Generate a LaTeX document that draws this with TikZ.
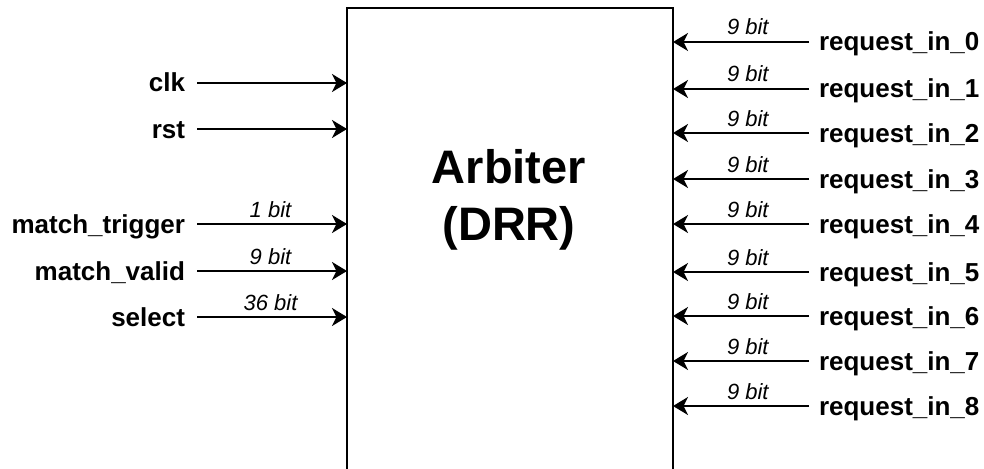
\documentclass[tikz,border=0pt]{standalone}
\usepackage{fontspec}
\setmainfont{Liberation Sans}
\usetikzlibrary{arrows.meta}
\tikzset{
  sig/.style={line width=2.2pt, -{Stealth[length=15pt, width=18pt, inset=4.5pt]}},
  port/.style={inner sep=0pt, outer sep=0pt, text height=18pt, text depth=0pt,
    font=\fontsize{26}{30}\selectfont\bfseries},
  width/.style={anchor=base, yshift=7pt, inner sep=0pt, font=\fontsize{22}{26}\selectfont\itshape},
  block/.style={draw, line width=2pt, outer sep=0pt, inner sep=0pt, minimum width=326pt,
    minimum height=480pt, anchor=north}
}
\begin{document}
\begin{tikzpicture}[x=1pt, y=-1pt]
\useasboundingbox (0,0) rectangle (984,468);

% the arbiter block (its lower edge runs off the page)
\node[block] (arb) at (510,8) {};
\node[font=\fontsize{47}{57}\selectfont\bfseries, align=center, anchor=base] (title) at (509,240)
  {Arbiter\\(DRR)};

% inputs on the left side
\node[port, anchor=east] (clk) at (185,83) {clk};
\node[port, anchor=east] (rst) at (185,129) {rst};
\node[port, anchor=east] (mtrig) at (185,224) {match\_trigger};
\node[port, anchor=east] (mvalid) at (185,271) {match\_valid};
\node[port, anchor=east] (sel) at (185,317) {select};

\draw[sig] ([xshift=12pt]clk.east) -- (arb.west |- clk.east);
\draw[sig] ([xshift=12pt]rst.east) -- (arb.west |- rst.east);
\draw[sig] ([xshift=12pt]mtrig.east) -- node[width, pos=.49] {1 bit} (arb.west |- mtrig.east);
\draw[sig] ([xshift=12pt]mvalid.east) -- node[width, pos=.49] {9 bit} (arb.west |- mvalid.east);
\draw[sig] ([xshift=12pt]sel.east) -- node[width, pos=.49] {36 bit} (arb.west |- sel.east);

% request inputs on the right side
\foreach \i/\y in {0/42, 1/89, 2/133, 3/179, 4/224, 5/272, 6/316, 7/361, 8/406} {
  \node[port, anchor=west] (req\i) at (819,\y) {request\_in\_\i};
  \draw[sig] ([xshift=-10pt]req\i.west) -- node[width, pos=.45] {9 bit} (arb.east |- req\i.west);
}
\end{tikzpicture}
\end{document}
